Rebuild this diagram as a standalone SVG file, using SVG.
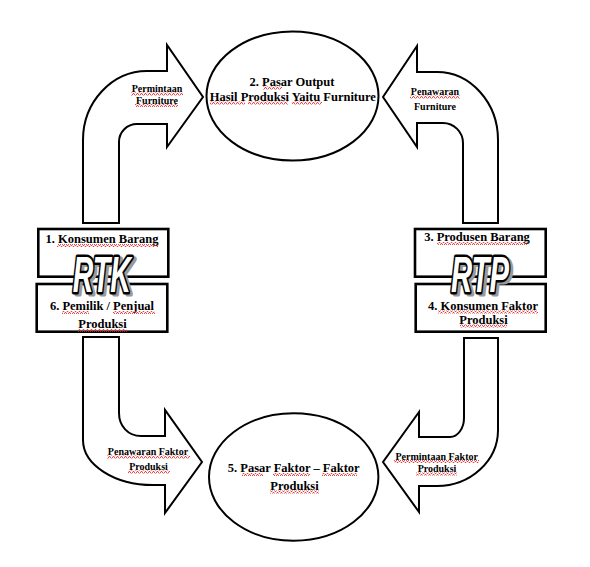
<svg xmlns="http://www.w3.org/2000/svg" width="590" height="567" viewBox="0 0 590 567">
<defs>
<pattern id="wave" width="4" height="3" patternUnits="userSpaceOnUse">
<path d="M0,2.5 L1,0.5 L2,0.5 L3,2.5 L4,2.5" fill="none" stroke="#e02020" stroke-width="0.8"/>
</pattern>
<style>
.shape{fill:#fff;stroke:#000;stroke-width:2;stroke-linejoin:miter}
.box{fill:#fff;stroke:#000;stroke-width:2.6}
.t{font-family:"Liberation Serif","Times New Roman",serif;font-weight:bold;font-size:12.5px;fill:#000;text-anchor:middle}
.s{font-family:"Liberation Serif","Times New Roman",serif;font-weight:bold;font-size:10px;fill:#000;text-anchor:middle}
.wa{font-family:"Liberation Sans",Arial,sans-serif;font-weight:bold;font-style:italic;font-size:50px;text-anchor:middle}
.wa-sh{fill:#9a9a9a;stroke:#9a9a9a;stroke-width:5;stroke-linejoin:round}
.wa-fg{fill:#fff;stroke:#000;stroke-width:5;stroke-linejoin:round;paint-order:stroke}
.sq{fill:url(#wave)}
</style>
</defs>
<rect width="590" height="567" fill="#fff"/>

<g id="connectors">
<path id="arrow-permintaan-furniture" class="shape" d="M83,223 L83,140 C83,102 112,71 147,71 L167,71 L167,45 L203,97 L167,147 L167,124 L137,124 C127,124 119,132 119,142 L119,223 Z"/>
<path id="arrow-penawaran-furniture" class="shape" d="M383,97 L417,46 L417,72 L437,72 C470.5,72 498,102.6 498,140 L498,223 L463,223 L463,143 C463,132 454,123 443,123 L417,123 L417,147 Z"/>
<path id="arrow-penawaran-faktor" class="shape" d="M83,337 L119,337 L119,413 C119,426 128,436 141,436 L165,436 L165,410 L202,462 L165,513 L165,485 L153,485 C114.5,485 83,464.8 83,440 Z"/>
<path id="arrow-permintaan-faktor" class="shape" d="M498,338 L464,338 L464,418 C464,428 458,437 450,437 L419,437 L419,412 L383,462 L419,512 L419,486 L437,486 C470.5,486 498,460.8 498,430 Z"/>
<text class="s" x="157" y="92">Permintaan</text>
<text class="s" x="157" y="103.5">Furniture</text>
<text class="s" x="435" y="95">Penawaran</text>
<text class="s" x="435" y="110">Furniture</text>
<text class="s" x="148" y="455">Penawaran Faktor</text>
<text class="s" x="148.5" y="470">Produksi</text>
<text class="s" x="436.7" y="459.5">Permintaan Faktor</text>
<text class="s" x="437" y="472">Produksi</text>
</g>

<g id="node-pasar-output">
<ellipse class="shape" cx="292.5" cy="96" rx="86" ry="64.5"/>
<text class="t" x="292" y="86">2. Pasar Output</text>
<text class="t" x="292.8" y="101">Hasil Produksi Yaitu Furniture</text>
</g>

<g id="node-pasar-faktor">
<ellipse class="shape" cx="293.7" cy="477" rx="84.7" ry="63.7"/>
<text class="t" x="293.7" y="472">5. Pasar Faktor – Faktor</text>
<text class="t" x="294.5" y="489.5">Produksi</text>
</g>

<g id="node-rtk">
<rect class="box" x="38.3" y="229" width="130" height="47.7"/>
<rect class="box" x="36.7" y="284" width="130.6" height="47.7"/>
<text class="t" x="102" y="243">1. Konsumen Barang</text>
<text class="t" x="102" y="309.5">6. Pemilik / Penjual</text>
<text class="t" x="102.5" y="328">Produksi</text>
<text class="wa wa-sh" x="104.5" y="294" textLength="58" lengthAdjust="spacingAndGlyphs">RTK</text>
<text class="wa wa-fg" x="101.7" y="291.5" textLength="58" lengthAdjust="spacingAndGlyphs">RTK</text>
</g>

<g id="node-rtp">
<rect class="box" x="415" y="229" width="130.7" height="47.7"/>
<rect class="box" x="415.7" y="284" width="130" height="47.7"/>
<text class="t" x="477" y="241">3. Produsen Barang</text>
<text class="t" x="483" y="309.5">4. Konsumen Faktor</text>
<text class="t" x="483.5" y="324">Produksi</text>
<text class="wa wa-sh" x="482.8" y="294" textLength="58" lengthAdjust="spacingAndGlyphs">RTP</text>
<text class="wa wa-fg" x="480" y="291.5" textLength="58" lengthAdjust="spacingAndGlyphs">RTP</text>
</g>

<g id="spellcheck-underlines">
<rect class="sq" x="263" y="86.5" width="19" height="3"/>
<rect class="sq" x="210" y="101.5" width="35" height="3"/>
<rect class="sq" x="248" y="101.5" width="40" height="3"/>
<rect class="sq" x="292" y="101.5" width="30" height="3"/>
<rect class="sq" x="131" y="92.5" width="52" height="3"/>
<rect class="sq" x="135" y="104" width="43" height="3"/>
<rect class="sq" x="410" y="95.5" width="50" height="3"/>
<rect class="sq" x="57" y="244" width="101" height="3"/>
<rect class="sq" x="62" y="311" width="27" height="3"/>
<rect class="sq" x="113" y="311" width="42" height="3"/>
<rect class="sq" x="78" y="329" width="49" height="3"/>
<rect class="sq" x="437" y="242" width="91" height="3"/>
<rect class="sq" x="438" y="310.5" width="100" height="3"/>
<rect class="sq" x="460" y="324.5" width="47" height="3"/>
<rect class="sq" x="107" y="455.5" width="83" height="3"/>
<rect class="sq" x="128" y="470.5" width="42" height="3"/>
<rect class="sq" x="242" y="473" width="21" height="3"/>
<rect class="sq" x="273" y="473" width="37" height="3"/>
<rect class="sq" x="322" y="473" width="35" height="3"/>
<rect class="sq" x="270" y="490.5" width="49" height="3"/>
<rect class="sq" x="394" y="460" width="85" height="3"/>
<rect class="sq" x="416" y="472.5" width="41" height="3"/>
</g>
</svg>
